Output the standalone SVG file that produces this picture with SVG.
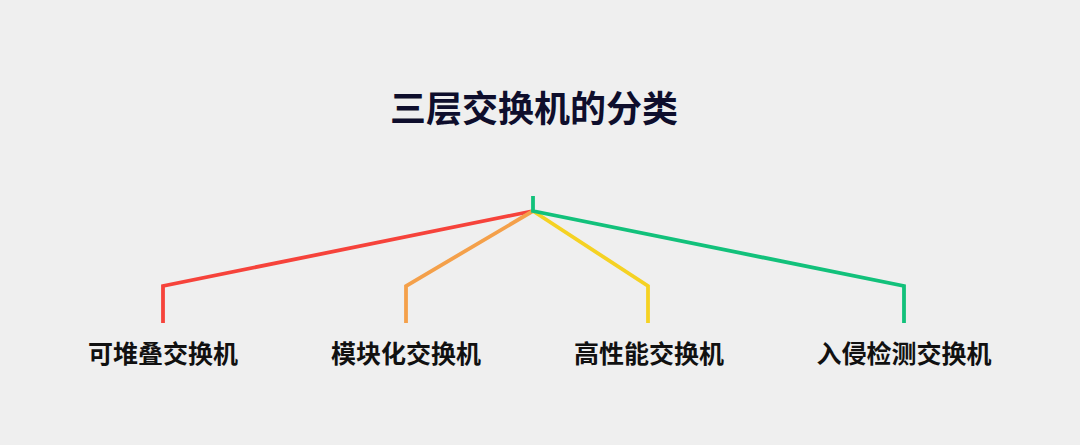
<svg xmlns="http://www.w3.org/2000/svg" width="1080" height="445" viewBox="0 0 1080 445">
<style>
.title{font-family:"Noto Sans CJK SC","Noto Sans",sans-serif;font-weight:bold;font-size:36px;fill:#0e0e2c;text-anchor:middle}
.label{font-family:"Noto Sans CJK SC","Noto Sans",sans-serif;font-weight:bold;font-size:25px;fill:#111111;text-anchor:middle}
.conn{fill:none;stroke-width:3.8;stroke-linejoin:miter;stroke-linecap:butt}
</style>
<rect width="1080" height="445" fill="#efefef"/>
<g id="title"><text class="title" x="534" y="122">三层交换机的分类</text></g>
<g id="connectors">
<path class="conn" stroke="#f6433b" d="M533,211 L163,286 L163,323"/>
<path class="conn" stroke="#f4a04a" d="M533,211 L406,286 L406,323"/>
<path class="conn" stroke="#f5d223" d="M533,211 L648,286 L648,323"/>
<path class="conn" stroke="#12c17b" d="M533,196 L533,211 L904,286 L904,323"/>
</g>
<g id="node1"><text class="label" x="163" y="363">可堆叠交换机</text></g>
<g id="node2"><text class="label" x="406" y="363">模块化交换机</text></g>
<g id="node3"><text class="label" x="649" y="363">高性能交换机</text></g>
<g id="node4"><text class="label" x="904" y="363">入侵检测交换机</text></g>
</svg>
